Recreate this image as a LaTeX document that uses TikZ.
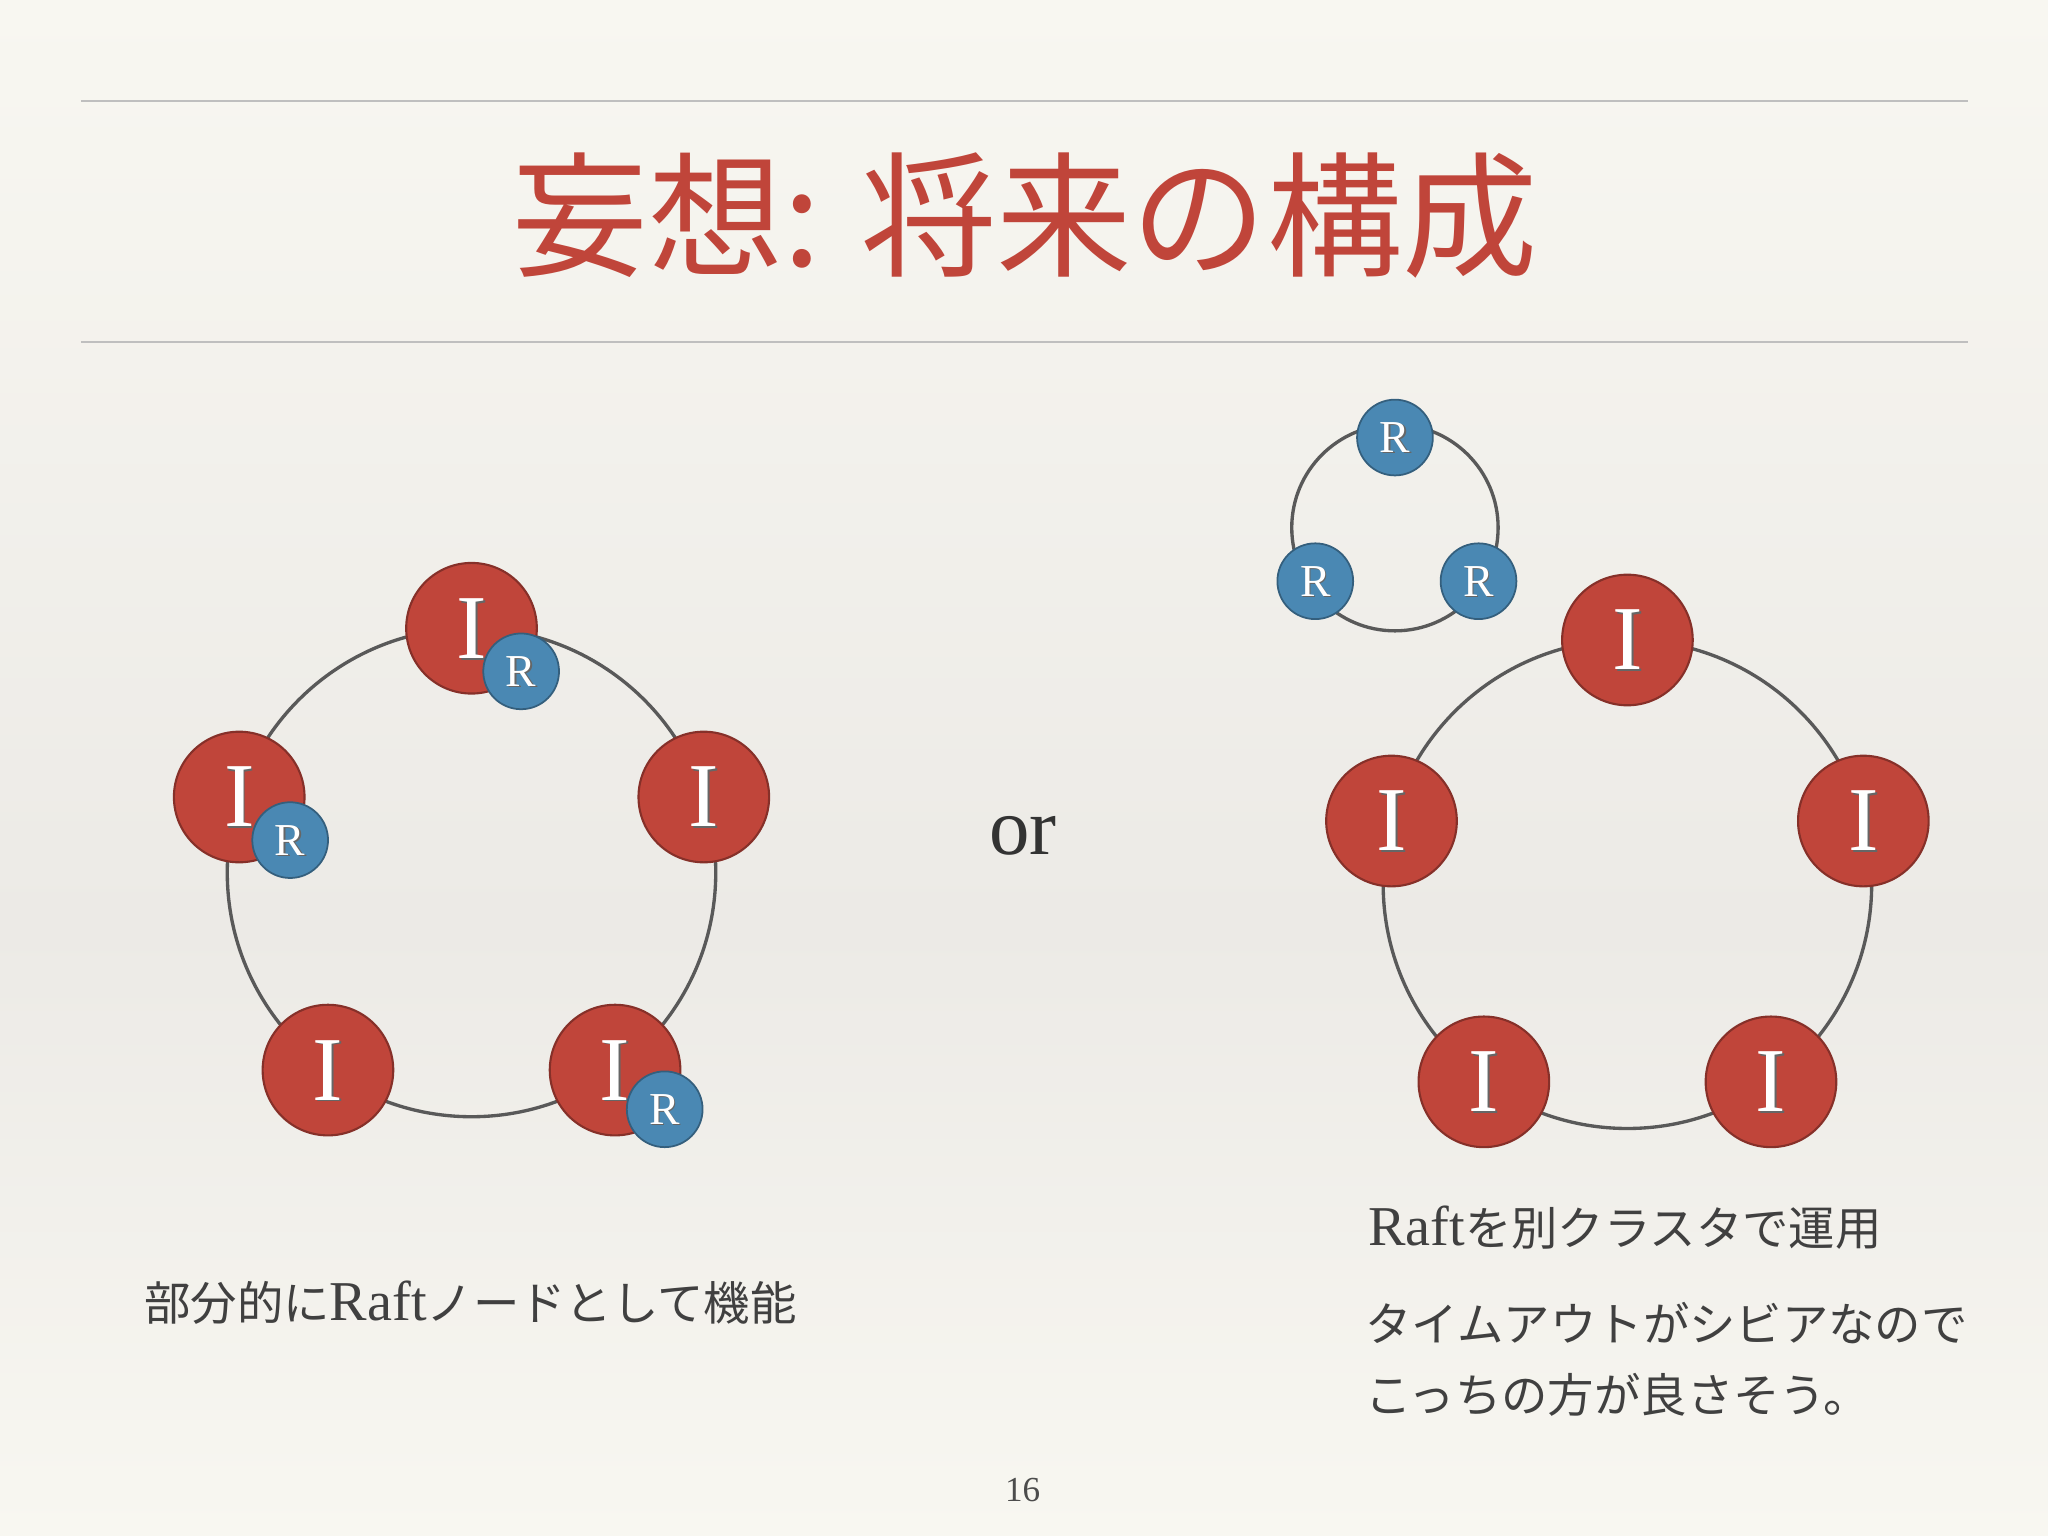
\documentclass[tikz,border=0pt]{standalone}
\usepackage{fontspec}
\setmainfont{Liberation Serif}
\newfontfamily\cjk{Noto Sans CJK JP}
\begin{document}
\begin{tikzpicture}[x=0.013061cm,y=-0.013061cm,
  inode/.style={circle,minimum size=100*0.013061cm,inner sep=0pt,line width=0.6pt},
  rnode/.style={circle,minimum size=58*0.013061cm,inner sep=0pt,line width=0.5pt},
  ilab/.style={text=white,font=\fontsize{26}{26}\selectfont},
  rlab/.style={text=white,font=\fontsize{13}{13}\selectfont},
  ring/.style={draw=black!65,line width=0.95pt},
  body/.style={text=black!75,font=\cjk\fontsize{13.2}{15}\selectfont,anchor=west,inner sep=0pt}]
\definecolor{ired}{HTML}{C0453A}
\definecolor{rblue}{HTML}{4A88B3}
\definecolor{bgA}{HTML}{F8F7F1}
\definecolor{bgB}{HTML}{ECEAE6}
\tikzset{inode/.append style={fill=ired,draw=ired!70!black},rnode/.append style={fill=rblue,draw=rblue!70!black}}
\useasboundingbox (0,0) rectangle (1568,1176);
\shade[top color=bgA,bottom color=bgB] (0,0) rectangle (1568,710);
\shade[top color=bgB,bottom color=bgA] (0,710) rectangle (1568,1176);
\draw[black!25,line width=0.6pt] (62,77) coordinate(l1a) -- (1507,77) coordinate(l1b);
\draw[black!25,line width=0.6pt] (62,262) coordinate(l2a) -- (1507,262) coordinate(l2b);
\node[text=ired,font=\cjk\fontsize{38.5}{38.5}\selectfont] (title) at (785,165) {妄想: 将来の構成};
% left ring
\coordinate (lc) at (361,668);
\draw[ring] (lc) circle[radius=187];
\foreach \n/\a in {l1/-90,l2/-18,l3/-162,l4/-234,l5/-306}{
  \node[inode] (\n) at ([shift={(\a:187)}]lc) {};
  \node[ilab,text=black!60] at ([shift={(1.5,1.5)}]\n) {I};
  \node[ilab] at (\n) {I};
}
\node[rnode] (lr1) at ([shift={(38,33)}]l1) {};
\node[rnode] (lr3) at ([shift={(39,33)}]l3) {};
\node[rnode] (lr5) at ([shift={(38,30)}]l5) {};
\foreach \n in {lr1,lr3,lr5}{
  \node[rlab,text=black!60] at ([shift={(1,1)}]\n) {R};
  \node[rlab] at (\n) {R};
}
\node[font=\fontsize{23}{23}\selectfont,text=black!80] (or) at (783,640) {or};
% right big ring
\coordinate (rc) at (1246,677);
\draw[ring] (rc) circle[radius=187];
\foreach \n/\a in {r1/-90,r2/-15,r3/-165,r4/-234,r5/-306}{
  \node[inode] (\n) at ([shift={(\a:187)}]rc) {};
  \node[ilab,text=black!60] at ([shift={(1.5,1.5)}]\n) {I};
  \node[ilab] at (\n) {I};
}
% small ring
\coordinate (sc) at (1068,404);
\draw[ring] (sc) circle[radius=79];
\node[rnode] (s1) at ([shift={(0,-69)}]sc) {};
\node[rnode] (s2) at ([shift={(64,41)}]sc) {};
\node[rnode] (s3) at ([shift={(-61,41)}]sc) {};
\foreach \n in {s1,s2,s3}{
  \node[rlab,text=black!60] at ([shift={(1,1)}]\n) {R};
  \node[rlab] at (\n) {R};
}
\node[body] (t1) at (110,997) {部分的に\fontspec{Liberation Serif}\fontsize{16}{16}\selectfont Raft\cjk\fontsize{13.2}{15}\selectfont ノードとして機能};
\node[body] (t2) at (1047,940) {\fontspec{Liberation Serif}\fontsize{16}{16}\selectfont Raft\cjk\fontsize{13.2}{15}\selectfont を別クラスタで運用};
\node[body] (t3) at (1045,1013) {タイムアウトがシビアなので};
\node[body] (t4) at (1045,1068) {こっちの方が良さそう。};
\node[text=black!70,font=\fontsize{10}{10}\selectfont] (pg) at (783,1141) {16};
\end{tikzpicture}
\end{document}
